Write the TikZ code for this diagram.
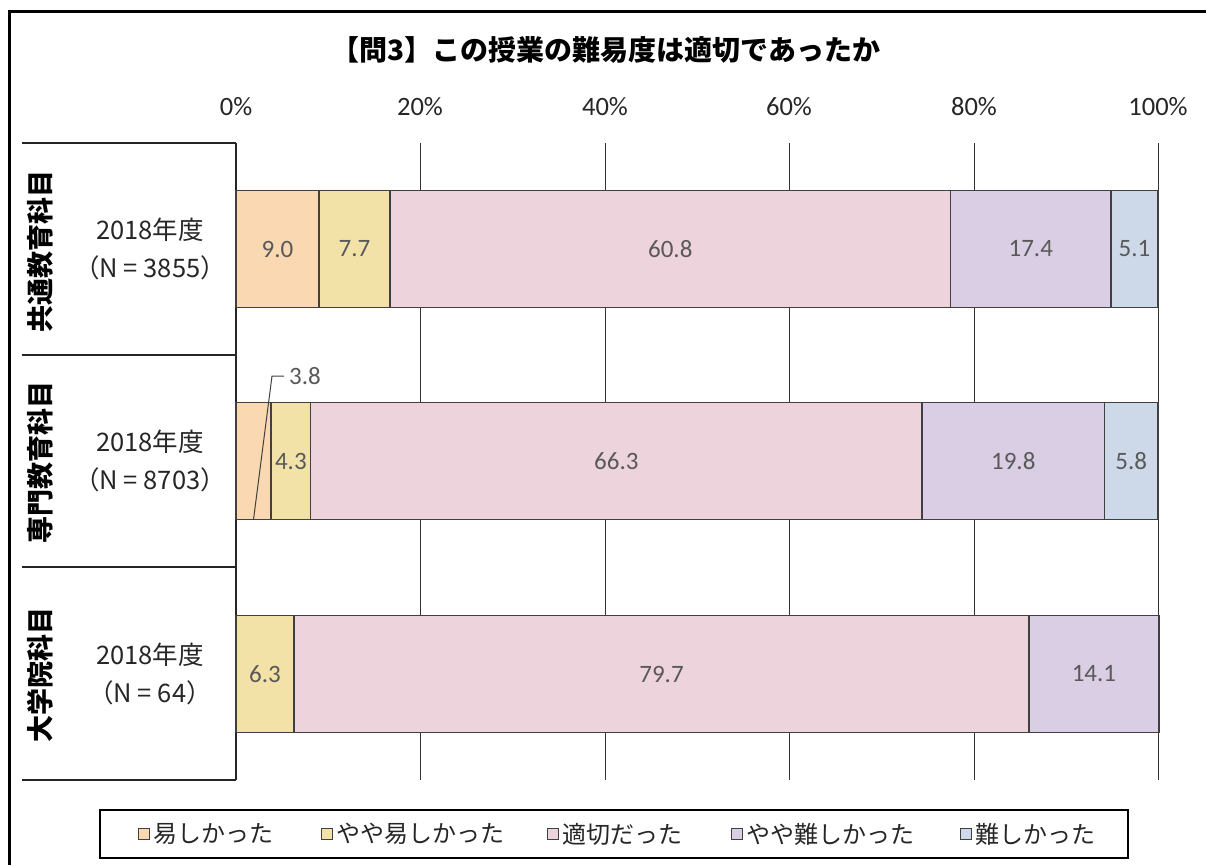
\documentclass[tikz,border=0pt]{standalone}
\usepackage{fontspec}
\setmainfont{Carlito}
\newfontfamily\jpfont{Noto Sans CJK JP}
\usetikzlibrary{positioning}
\definecolor{easy}{RGB}{249,216,178}
\definecolor{rathereasy}{RGB}{243,226,168}
\definecolor{proper}{RGB}{237,211,220}
\definecolor{ratherhard}{RGB}{217,206,228}
\definecolor{hard}{RGB}{205,216,232}
\definecolor{valgray}{RGB}{89,89,89}
\definecolor{segline}{RGB}{64,64,64}
\newcommand{\pw}{9.22}
\tikzstyle{seg} = [draw=segline, line width=1.3, outer sep=0, inner sep=0,
    minimum height=117, text=valgray, font=\fontsize{25}{25}\selectfont]
\tikzstyle{vallbl} = [inner sep=0, text=valgray, font=\fontsize{25}{25}\selectfont]
\tikzstyle{axislbl} = [font=\fontsize{26.5}{26.5}\selectfont, text=black!85]
\tikzstyle{gridline} = [line width=1, draw=black!80]
\tikzstyle{frame} = [line width=2.6, draw=black!85]
\tikzstyle{yearlbl} = [align=center, text=black!85,
    font=\jpfont\fontsize{25.5}{37.5}\selectfont]
\tikzstyle{catlbl} = [rotate=90, font=\jpfont\bfseries\fontsize{27}{27}\selectfont]
\tikzstyle{keybox} = [draw=segline, line width=1, minimum size=11, inner sep=0, outer sep=0]
\tikzstyle{keytext} = [font=\jpfont\fontsize{24}{24}\selectfont, inner sep=0, text=black!85]

\begin{document}
\begin{tikzpicture}[x=1pt, y=-1pt]
\useasboundingbox (0,0) rectangle (1206,865);

\draw[line width=3] (9,865) -- (9,11) -- (1206,11);

\node[font=\jpfont\bfseries\fontsize{28}{28}\selectfont] (title) at (606,50) {【問3】この授業の難易度は適切であったか};

%%% axis
\node[axislbl] (p0) at (236,107) {0\%};
\node[axislbl] (p20) at (420,107) {20\%};
\node[axislbl] (p40) at (605,107) {40\%};
\node[axislbl] (p60) at (789,107) {60\%};
\node[axislbl] (p80) at (974,107) {80\%};
\node[axislbl] (p100) at (1158,107) {100\%};

\draw[gridline] (420,143) -- (420,780);
\draw[gridline] (605,143) -- (605,780);
\draw[gridline] (789,143) -- (789,780);
\draw[gridline] (974,143) -- (974,780);
\draw[gridline] (1158,143) -- (1158,780);

%%% category frame
\draw[frame] (22,143) -- (236,143);
\draw[frame] (22,355) -- (236,355);
\draw[frame] (22,567) -- (236,567);
\draw[frame] (22,780) -- (236,780);
\draw[frame] (236,143) -- (236,780);

\node[catlbl] (cat1) at (40,251) {共通教育科目};
\node[catlbl] (cat2) at (40,462) {専門教育科目};
\node[catlbl] (cat3) at (40,675) {大学院科目};

\node[yearlbl] (yr1) at (150,249) {2018年度\\（N = 3855）};
\node[yearlbl] (yr2) at (150,461) {2018年度\\（N = 8703）};
\node[yearlbl] (yr3) at (150,674) {2018年度\\（N = 64）};

%%% bars
\node[seg, fill=easy, minimum width=9.0*\pw, anchor=west] (a1) at (236,249) {9.0};
\node[seg, fill=rathereasy, minimum width=7.7*\pw, right=0pt of a1] (a2) {7.7};
\node[seg, fill=proper, minimum width=60.8*\pw, right=0pt of a2] (a3) {60.8};
\node[seg, fill=ratherhard, minimum width=17.4*\pw, right=0pt of a3] (a4) {17.4};
\node[seg, fill=hard, minimum width=5.1*\pw, right=0pt of a4] (a5) {5.1};

\node[seg, fill=easy, minimum width=3.8*\pw, anchor=west] (b1) at (236,461) {};
\node[seg, fill=rathereasy, minimum width=4.3*\pw, right=0pt of b1] (b2) {4.3};
\node[seg, fill=proper, minimum width=66.3*\pw, right=0pt of b2] (b3) {66.3};
\node[seg, fill=ratherhard, minimum width=19.8*\pw, right=0pt of b3] (b4) {19.8};
\node[seg, fill=hard, minimum width=5.8*\pw, right=0pt of b4] (b5) {5.8};

\node[vallbl, anchor=west, inner xsep=5] (b1lbl) at (284,376) {3.8};
\coordinate (b1knee) at (272,376);
\draw[line width=1, draw=segline] (b1.south) -- (b1knee) -- (b1lbl.west);

\node[seg, fill=rathereasy, minimum width=6.3*\pw, anchor=west] (c2) at (236,674) {6.3};
\node[seg, fill=proper, minimum width=79.7*\pw, right=0pt of c2] (c3) {79.7};
\node[seg, fill=ratherhard, minimum width=14.1*\pw, right=0pt of c3] (c4) {14.1};

%%% legend
\node[draw, line width=2.6, minimum width=1028, minimum height=48, inner sep=0] (legend) at (614,834) {};
\node[keybox, fill=easy] (k1) at (144,834) {};
\node[keytext, right=4pt of k1] (t1) {易しかった};
\node[keybox, fill=rathereasy] (k2) at (327,834) {};
\node[keytext, right=4pt of k2] (t2) {やや易しかった};
\node[keybox, fill=proper] (k3) at (553,834) {};
\node[keytext, right=4pt of k3] (t3) {適切だった};
\node[keybox, fill=ratherhard] (k4) at (737,834) {};
\node[keytext, right=4pt of k4] (t4) {やや難しかった};
\node[keybox, fill=hard] (k5) at (966,834) {};
\node[keytext, right=4pt of k5] (t5) {難しかった};

\end{tikzpicture}
\end{document}
